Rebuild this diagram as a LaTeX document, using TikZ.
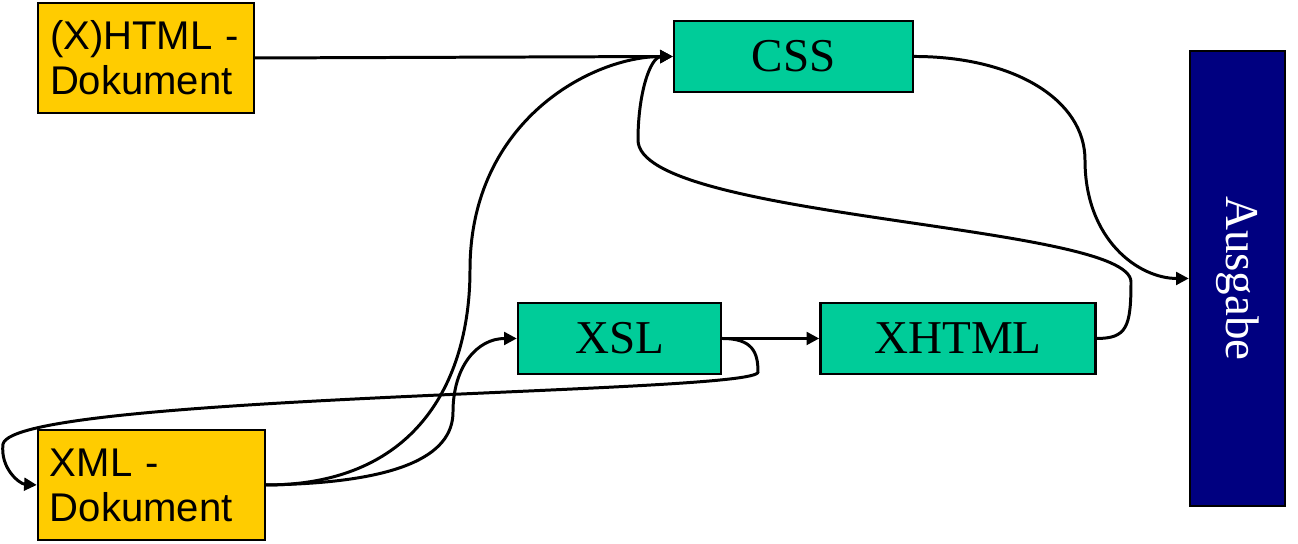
\documentclass[tikz,border=0pt]{standalone}
\usepackage{fontspec}
\setmainfont{Liberation Serif}
\setsansfont{Liberation Sans}
\usepackage{xcolor}
\definecolor{docgold}{HTML}{FFCC00}
\definecolor{stepteal}{HTML}{00CC99}
\definecolor{outnavy}{HTML}{000080}
\usepackage{tikz}
\usetikzlibrary{arrows.meta,positioning}

\begin{document}
\begin{tikzpicture}[
  docbox/.style={rectangle, draw=black, line width=0.7pt, fill=docgold,
                 minimum height=1.10cm, inner xsep=0.12cm,
                 align=left, font=\sffamily\fontsize{11.4}{12.8}\selectfont},
  langbox/.style={rectangle, draw=black, line width=0.7pt, fill=stepteal,
                 minimum height=0.71cm, align=center,
                 font=\fontsize{13.4}{16}\selectfont},
  outbox/.style={rectangle, draw=black, line width=0.7pt, fill=outnavy,
                 minimum width=0.95cm, minimum height=4.55cm,
                 text=white, font=\fontsize{13.4}{16}\selectfont},
  flow/.style={-{Triangle[length=3.6pt,width=3.6pt]}, line width=0.85pt}
]
\useasboundingbox (0,0) rectangle (12.98,5.44);

\node[docbox, text width=1.92cm] (htmldoc) at (1.46,4.86) {(X)HTML -\\Dokument};
\node[docbox, text width=2.03cm] (xmldoc)  at (1.515,0.59) {XML -\\Dokument};

\node[langbox, minimum width=2.39cm] (css) at (7.935,4.875) {CSS};
\node[langbox, minimum width=2.03cm] (xsl) at (6.195,2.055) {XSL};
\node[langbox, minimum width=2.75cm, right=0.97cm of xsl] (xhtml) {XHTML};

\node[outbox] (ausgabe) at (12.375,2.655) {\rotatebox{-90}{Ausgabe}};

%% arrows
\draw[flow] (htmldoc.east) -- (css.west);
\draw[flow] (xmldoc.east) .. controls +(1.55,0) and +(0,-1.05) .. (4.70,2.74)
            .. controls +(0,1.5) and +(-0.8,0) .. (css.west);
\draw[flow] (xmldoc.east) .. controls +(1.3,0.02) and +(0,-0.45) .. (4.53,1.32)
            .. controls +(0,0.45) and +(-0.4,0) .. (xsl.west);
\draw[flow] (xsl.east) -- (xhtml.west);
\draw[flow] (xsl.east) .. controls +(0.3,0) and +(0,0.2) .. (7.58,1.72)
            .. controls (7.6,1.5) and (0.15,1.5) .. (0.03,1.0)
            .. controls (0,0.75) and (0.2,0.6) .. (xmldoc.west);
\draw[flow] (xhtml.east) .. controls +(0.3,0) and +(0,-0.45) .. (11.31,2.62)
            .. controls (11.31,3.2) and (6.38,3.25) .. (6.38,4.04)
            .. controls (6.38,4.5) and (6.5,4.87) .. (css.west);
\draw[flow] (css.east) .. controls +(1.0,0) and +(0,0.6) .. (10.85,3.84)
            .. controls +(0,-0.8) and +(-0.5,0) .. (ausgabe.west);

\end{tikzpicture}
\end{document}
